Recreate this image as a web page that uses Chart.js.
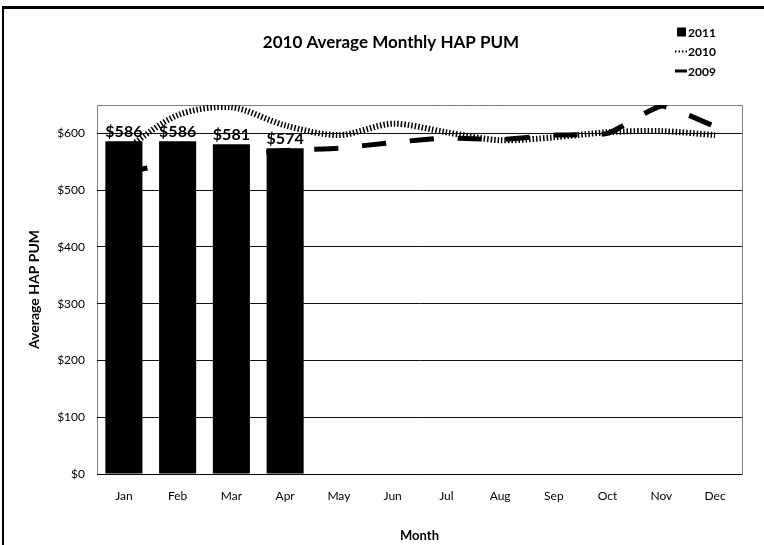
<!DOCTYPE html>
<html>
<head>
<meta charset="utf-8">
<script src="https://cdn.jsdelivr.net/npm/chart.js@4.4.1/dist/chart.umd.min.js"></script>
<style>
  html, body { margin: 0; padding: 0; background: #fff; }
  #wrap { width: 764px; height: 545px; }
</style>
</head>
<body>
<div id="wrap"><canvas id="myChart" width="764" height="545"></canvas></div>
<script>
// values
const months = ['Jan', 'Feb', 'Mar', 'Apr', 'May', 'Jun', 'Jul', 'Aug', 'Sep', 'Oct', 'Nov', 'Dec'];
const hap2011 = [586, 586, 581, 574, null, null, null, null, null, null, null, null];
const hap2010 = [570, 632, 646, 614, 597, 617, 602, 588, 593, 602, 604, 597];
const hap2009 = [531, 549, 560, 570, 574, 584, 592, 589, 597, 600, 648, 612];
const yTicks = [0, 100, 200, 300, 400, 500, 600];

const chartTitle = '2010 Average Monthly HAP PUM';
const FONT = 'Lato';

// frame, plot border, title, legend and bar labels
const decorPlugin = {
    id: 'decor',
    afterDraw(chart) {
        const ctx = chart.ctx;
        const a = chart.chartArea;
        ctx.save();

        // outer frame (cropped at right / bottom)
        ctx.strokeStyle = '#000';
        ctx.lineWidth = 3;
        ctx.beginPath();
        ctx.moveTo(2, 7.5); ctx.lineTo(chart.width, 7.5);
        ctx.stroke();
        ctx.lineWidth = 2;
        ctx.beginPath();
        ctx.moveTo(3, 7); ctx.lineTo(3, chart.height);
        ctx.stroke();

        // dotted plot area border
        ctx.lineWidth = 1;
        ctx.setLineDash([1, 1]);
        ctx.strokeRect(a.left + 0.5, a.top + 0.5, a.right - a.left, a.bottom - a.top);
        ctx.setLineDash([]);

        // title
        ctx.fillStyle = '#000';
        ctx.font = 'bold 17px ' + FONT;
        ctx.textAlign = 'center';
        ctx.textBaseline = 'middle';
        ctx.fillText(chartTitle, 391, 43);

        // legend
        ctx.font = 'bold 12px ' + FONT;
        ctx.textAlign = 'left';
        const ds = chart.data.datasets;
        const lx = 675, tx = 688;
        ds.forEach(function (d, i) {
            const ly = 32 + i * 19.5;
            if (d.type === 'bar') {
                ctx.fillRect(lx + 2, ly - 4.5, 9, 9);
            } else {
                const dotted = d.borderDash[0] < 5;
                ctx.strokeStyle = '#000';
                ctx.lineWidth = dotted ? 2 : 3;
                ctx.setLineDash(dotted ? [1.5, 2] : []);
                ctx.beginPath();
                ctx.moveTo(lx, ly); ctx.lineTo(lx + 12, ly);
                ctx.stroke();
                ctx.setLineDash([]);
            }
            ctx.fillText(d.label, tx, ly + 1);
        });

        // data labels on the bars
        const meta = chart.getDatasetMeta(0);
        ctx.font = 'bold 16px ' + FONT;
        ctx.textAlign = 'center';
        ctx.textBaseline = 'bottom';
        meta.data.forEach(function (bar, i) {
            const v = ds[0].data[i];
            if (v == null) return;
            ctx.fillText('$' + v, bar.x, bar.y - 1);
        });
        ctx.restore();
    }
};

const ctx = document.getElementById('myChart');
new Chart(ctx, {
    type: 'bar',
    data: {
        labels: months,
        datasets: [{
            type: 'bar',
            label: '2011',
            data: hap2011,
            backgroundColor: '#000',
            categoryPercentage: 1,
            barPercentage: 0.69,
            order: 3
        }, {
            type: 'line',
            label: '2010',
            data: hap2010,
            borderColor: '#000',
            borderWidth: 6,
            borderDash: [1.5, 2],
            borderCapStyle: 'butt',
            pointRadius: 0,
            tension: 0.3,
            order: 1
        }, {
            type: 'line',
            label: '2009',
            data: hap2009,
            borderColor: '#000',
            borderWidth: 5,
            borderDash: [24, 24],
            borderCapStyle: 'butt',
            pointRadius: 0,
            tension: 0.15,
            order: 2
        }]
    },
    options: {
        responsive: false,
        animation: false,
        layout: { padding: { top: 105, right: 22, left: 22, bottom: 0 } },
        plugins: {
            legend: { display: false },
            title: { display: false },
            tooltip: { enabled: false }
        },
        scales: {
            x: {
                grid: { display: false, drawTicks: false },
                border: { display: false },
                ticks: { color: '#000', padding: 15, font: { family: FONT, size: 12 } },
                title: {
                    display: true, text: 'Month', color: '#000',
                    padding: { top: 0, bottom: 1 },
                    font: { family: FONT, size: 13, weight: 'bold' }
                },
                afterFit: function (scale) { scale.height = 71; }
            },
            y: {
                min: 0,
                max: 650,
                grid: { color: '#111', lineWidth: 1, drawTicks: false },
                border: { display: false },
                ticks: {
                    color: '#000', padding: 12,
                    font: { family: FONT, size: 12 },
                    callback: function (v) { return '$' + v; }
                },
                afterBuildTicks: function (scale) {
                    scale.ticks = yTicks.map(function (v) { return { value: v }; });
                },
                title: {
                    display: true, text: 'Average HAP PUM', color: '#000',
                    padding: { top: 4, bottom: 4 },
                    font: { family: FONT, size: 14, weight: 'bold' }
                },
                afterFit: function (scale) { scale.width = 75; }
            }
        }
    },
    plugins: [decorPlugin]
});
</script>
</body>
</html>
